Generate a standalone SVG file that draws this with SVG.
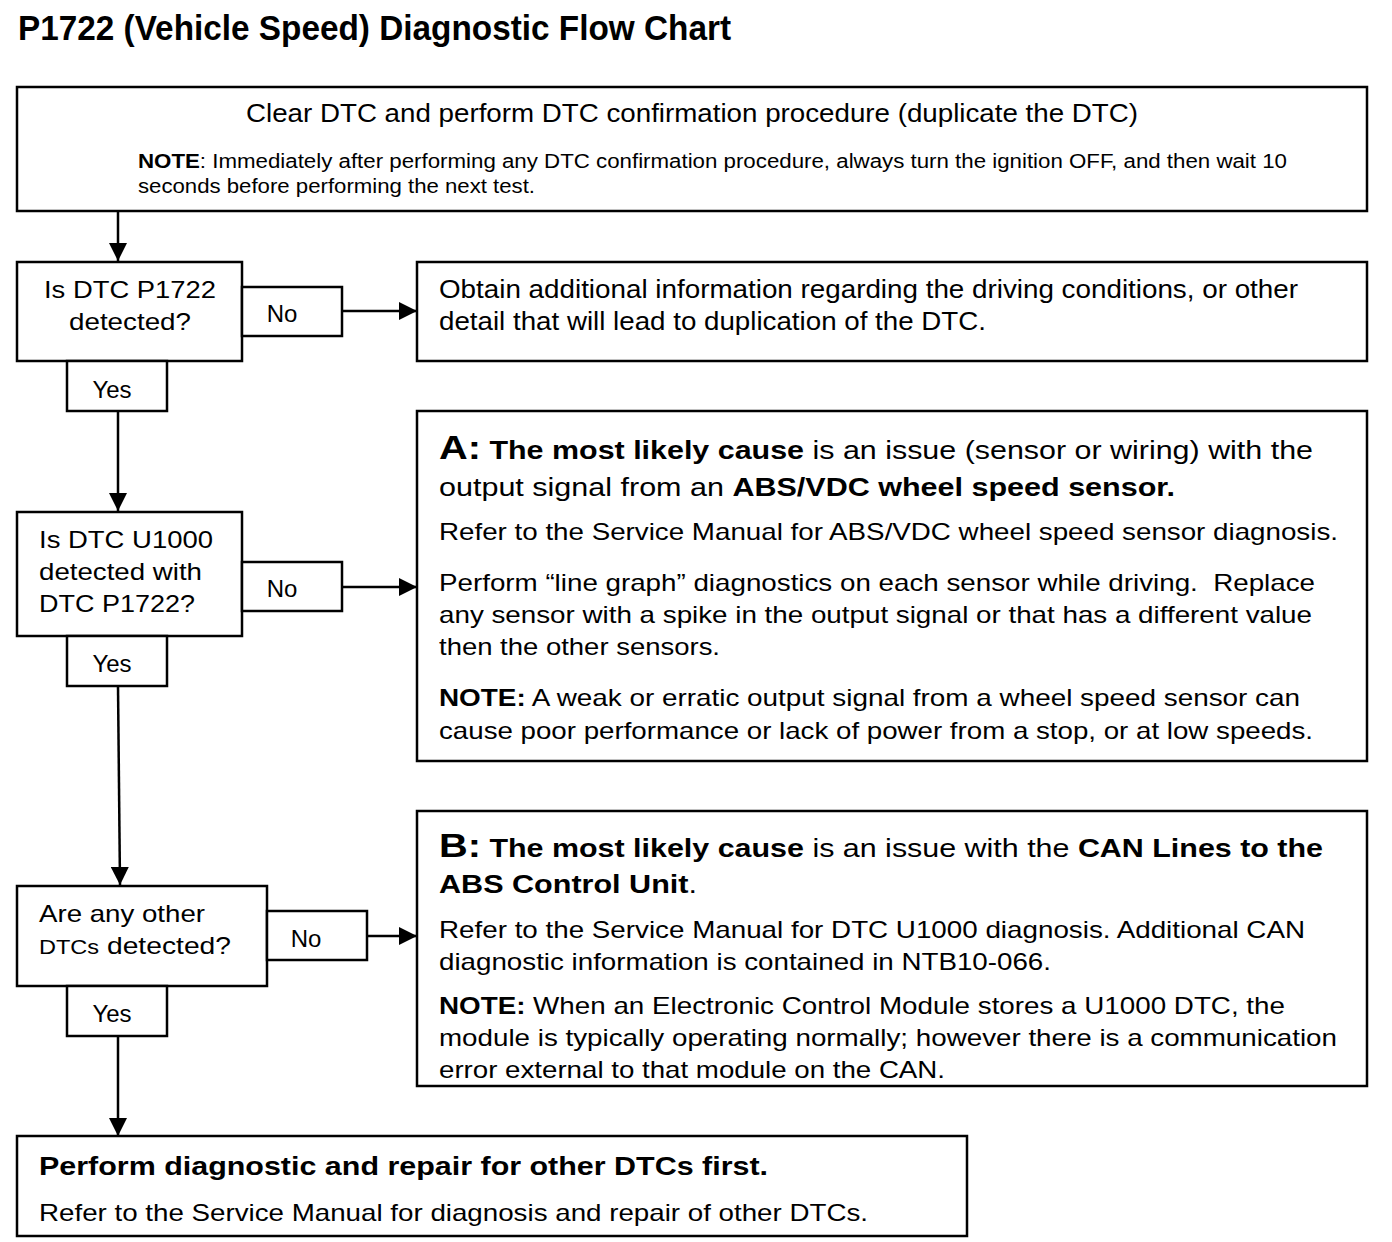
<svg xmlns="http://www.w3.org/2000/svg" width="1392" height="1242" viewBox="0 0 1392 1242">
<style>
.box{fill:#fff;stroke:#000;stroke-width:2.5}
.t{font-family:"Liberation Sans",Arial,sans-serif;font-size:24px;fill:#000}
.n{font-family:"Liberation Sans",Arial,sans-serif;font-size:26px;fill:#000}
.s{font-family:"Liberation Sans",Arial,sans-serif;font-size:20px;fill:#000}
.b{font-weight:bold}
.big{font-size:34px;font-weight:bold}
.c{stroke:#000;stroke-width:2.5;fill:none}
</style>
<defs>
<marker id="ah" markerWidth="18" markerHeight="18" refX="18" refY="9" orient="auto" markerUnits="userSpaceOnUse"><path d="M0,0 L18,9 L0,18 z" fill="#000"/></marker>
</defs>
<rect width="1392" height="1242" fill="#fff"/>
<text x="18" y="40" class="t b" style="font-size:35px" textLength="713" lengthAdjust="spacingAndGlyphs">P1722 (Vehicle Speed) Diagnostic Flow Chart</text>

<g id="connectors">
<line class="c" x1="118" y1="212" x2="118" y2="261" marker-end="url(#ah)"/>
<line class="c" x1="342" y1="311" x2="417" y2="311" marker-end="url(#ah)"/>
<line class="c" x1="118" y1="411" x2="118" y2="511" marker-end="url(#ah)"/>
<line class="c" x1="342" y1="587" x2="417" y2="587" marker-end="url(#ah)"/>
<line class="c" x1="118" y1="686" x2="120" y2="885" marker-end="url(#ah)"/>
<line class="c" x1="367" y1="936" x2="417" y2="936" marker-end="url(#ah)"/>
<line class="c" x1="118" y1="1036" x2="118" y2="1136" marker-end="url(#ah)"/>
</g>

<g id="start">
<rect class="box" x="17" y="87" width="1350" height="124"/>
<text x="692" y="122" class="n" text-anchor="middle" textLength="892" lengthAdjust="spacingAndGlyphs">Clear DTC and perform DTC confirmation procedure (duplicate the DTC)</text>
<text x="138" y="168" class="s" textLength="1149" lengthAdjust="spacingAndGlyphs"><tspan class="b">NOTE</tspan>: Immediately after performing any DTC confirmation procedure, always turn the ignition OFF, and then wait 10</text>
<text x="138" y="193" class="s" textLength="397" lengthAdjust="spacingAndGlyphs">seconds before performing the next test.</text>
</g>

<g id="q1">
<rect class="box" x="17" y="262" width="225" height="99"/>
<text x="130" y="298" class="t" text-anchor="middle" textLength="172" lengthAdjust="spacingAndGlyphs">Is DTC P1722</text>
<text x="130" y="330" class="t" text-anchor="middle" textLength="122" lengthAdjust="spacingAndGlyphs">detected?</text>
</g>
<g id="q1-no">
<rect class="box" x="242" y="287" width="100" height="49"/>
<text x="282" y="322" class="t" text-anchor="middle">No</text>
</g>
<g id="q1-yes">
<rect class="box" x="67" y="361" width="100" height="50"/>
<text x="112" y="398" class="t" text-anchor="middle">Yes</text>
</g>

<g id="obtain">
<rect class="box" x="417" y="262" width="950" height="99"/>
<text x="439" y="298" class="n" textLength="859" lengthAdjust="spacingAndGlyphs">Obtain additional information regarding the driving conditions, or other</text>
<text x="439" y="330" class="n" textLength="547" lengthAdjust="spacingAndGlyphs">detail that will lead to duplication of the DTC.</text>
</g>

<g id="q2">
<rect class="box" x="17" y="512" width="225" height="124"/>
<text x="39" y="548" class="t" textLength="174" lengthAdjust="spacingAndGlyphs">Is DTC U1000</text>
<text x="39" y="580" class="t" textLength="163" lengthAdjust="spacingAndGlyphs">detected with</text>
<text x="39" y="612" class="t" textLength="156" lengthAdjust="spacingAndGlyphs">DTC P1722?</text>
</g>
<g id="q2-no">
<rect class="box" x="242" y="562" width="100" height="49"/>
<text x="282" y="597" class="t" text-anchor="middle">No</text>
</g>
<g id="q2-yes">
<rect class="box" x="67" y="636" width="100" height="50"/>
<text x="112" y="672" class="t" text-anchor="middle">Yes</text>
</g>

<g id="causeA">
<rect class="box" x="417" y="411" width="950" height="350"/>
<text x="439" y="459" class="t" textLength="874" lengthAdjust="spacingAndGlyphs"><tspan class="big">A:</tspan><tspan class="b" style="font-size:26px"> The most likely cause</tspan><tspan style="font-size:26px"> is an issue (sensor or wiring) with the</tspan></text>
<text x="439" y="496" class="t" style="font-size:26px" textLength="736" lengthAdjust="spacingAndGlyphs">output signal from an <tspan class="b">ABS/VDC wheel speed sensor.</tspan></text>
<text x="439" y="540" class="t" textLength="899" lengthAdjust="spacingAndGlyphs">Refer to the Service Manual for ABS/VDC wheel speed sensor diagnosis.</text>
<text x="439" y="591" class="t" xml:space="preserve" textLength="876" lengthAdjust="spacingAndGlyphs">Perform “line graph” diagnostics on each sensor while driving.  Replace</text>
<text x="439" y="623" class="t" textLength="873" lengthAdjust="spacingAndGlyphs">any sensor with a spike in the output signal or that has a different value</text>
<text x="439" y="655" class="t" textLength="281" lengthAdjust="spacingAndGlyphs">then the other sensors.</text>
<text x="439" y="706" class="t" textLength="861" lengthAdjust="spacingAndGlyphs"><tspan class="b">NOTE:</tspan> A weak or erratic output signal from a wheel speed sensor can</text>
<text x="439" y="739" class="t" textLength="874" lengthAdjust="spacingAndGlyphs">cause poor performance or lack of power from a stop, or at low speeds.</text>
</g>

<g id="q3">
<rect class="box" x="17" y="886" width="250" height="100"/>
<text x="39" y="922" class="t" textLength="166" lengthAdjust="spacingAndGlyphs">Are any other</text>
<text x="39" y="954" class="t" textLength="192" lengthAdjust="spacingAndGlyphs"><tspan style="font-size:20px">DTCs</tspan> detected?</text>
</g>
<g id="q3-no">
<rect class="box" x="267" y="911" width="100" height="49"/>
<text x="306" y="947" class="t" text-anchor="middle">No</text>
</g>
<g id="q3-yes">
<rect class="box" x="67" y="986" width="100" height="50"/>
<text x="112" y="1022" class="t" text-anchor="middle">Yes</text>
</g>

<g id="causeB">
<rect class="box" x="417" y="811" width="950" height="275"/>
<text x="439" y="857" class="t" textLength="884" lengthAdjust="spacingAndGlyphs"><tspan class="big">B:</tspan><tspan class="b" style="font-size:26px"> The most likely cause</tspan><tspan style="font-size:26px"> is an issue with the </tspan><tspan class="b" style="font-size:26px">CAN Lines to the</tspan></text>
<text x="439" y="893" class="t b" style="font-size:26px" textLength="258" lengthAdjust="spacingAndGlyphs">ABS Control Unit<tspan style="font-weight:normal">.</tspan></text>
<text x="439" y="938" class="t" textLength="866" lengthAdjust="spacingAndGlyphs">Refer to the Service Manual for DTC U1000 diagnosis. Additional CAN</text>
<text x="439" y="970" class="t" textLength="612" lengthAdjust="spacingAndGlyphs">diagnostic information is contained in NTB10-066.</text>
<text x="439" y="1014" class="t" textLength="846" lengthAdjust="spacingAndGlyphs"><tspan class="b">NOTE:</tspan> When an Electronic Control Module stores a U1000 DTC, the</text>
<text x="439" y="1046" class="t" textLength="898" lengthAdjust="spacingAndGlyphs">module is typically operating normally; however there is a communication</text>
<text x="439" y="1078" class="t" textLength="506" lengthAdjust="spacingAndGlyphs">error external to that module on the CAN.</text>
</g>

<g id="other">
<rect class="box" x="17" y="1136" width="950" height="100"/>
<text x="39" y="1175" class="t b" style="font-size:26px" textLength="729" lengthAdjust="spacingAndGlyphs">Perform diagnostic and repair for other DTCs first.</text>
<text x="39" y="1221" class="t" textLength="829" lengthAdjust="spacingAndGlyphs">Refer to the Service Manual for diagnosis and repair of other DTCs.</text>
</g>
</svg>
